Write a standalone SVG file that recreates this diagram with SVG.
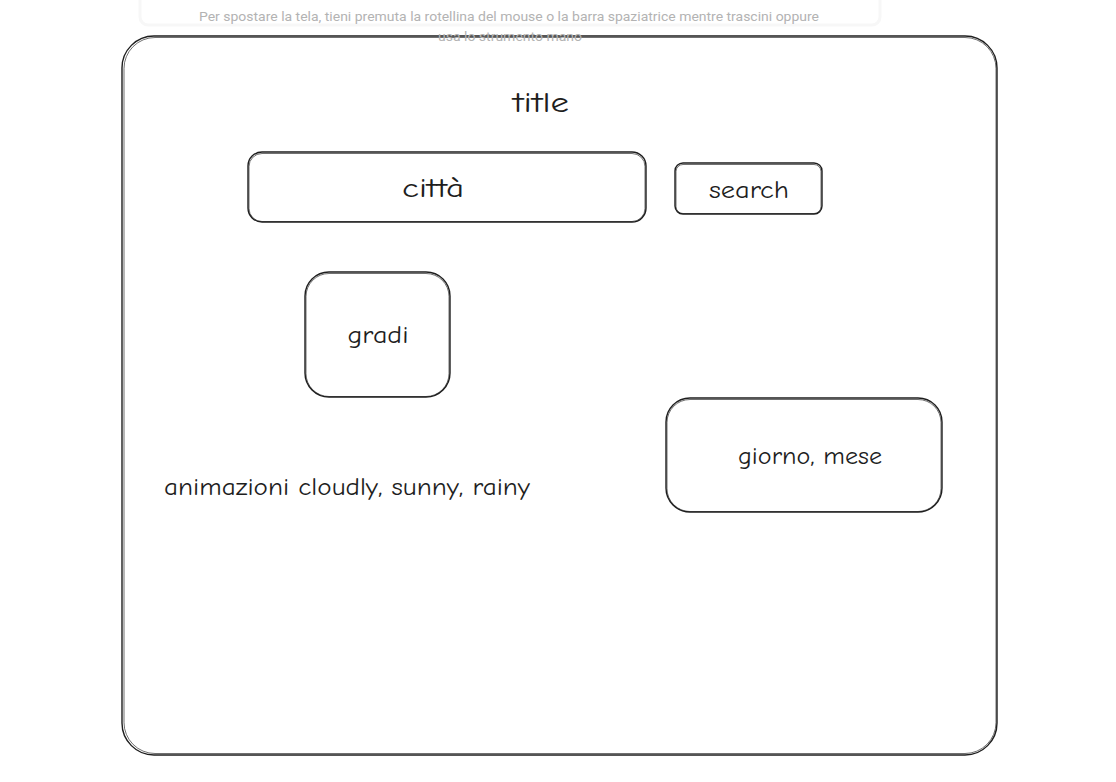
<svg xmlns="http://www.w3.org/2000/svg" width="1116" height="782" viewBox="0 0 1116 782">
<style>
.sk{fill:none;stroke:#1e1e1e;stroke-width:1.4;stroke-linecap:round}
.sk2{fill:none;stroke:#1e1e1e;stroke-width:0.8;opacity:0.8}
.hand{font-family:"Comic Neue","Noto Sans","Liberation Sans",sans-serif;fill:#1e1e1e;text-anchor:middle}
.hint{font-family:Roboto,"Liberation Sans",sans-serif;font-size:13px;fill:#b3b3b3;text-anchor:middle}
</style>
<rect width="1116" height="782" fill="#ffffff"/>
<g id="hint-bar">
<rect x="140" y="-10" width="740" height="35" rx="8" fill="#ffffff" stroke="#f7f7f7" stroke-width="3"/>
</g>
<g id="frame">
<rect class="sk" x="122" y="36" width="875" height="719" rx="32"/>
<rect class="sk2" x="124" y="37.5" width="872" height="716" rx="31"/>
</g>
<g id="hint-text">
<text class="hint" x="509" y="21" textLength="620" lengthAdjust="spacingAndGlyphs">Per spostare la tela, tieni premuta la rotellina del mouse o la barra spaziatrice mentre trascini oppure</text>
<text class="hint" x="510" y="41" textLength="144" lengthAdjust="spacingAndGlyphs">usa lo strumento mano</text>
</g>
<g id="title">
<text class="hand" x="541" y="112" font-size="28" textLength="56" lengthAdjust="spacingAndGlyphs">title</text>
</g>
<g id="citta">
<rect class="sk" x="248" y="152" width="398" height="70" rx="14"/>
<rect class="sk2" x="249" y="153.5" width="396" height="68" rx="13"/>
<text class="hand" x="433" y="197" font-size="26" textLength="62" lengthAdjust="spacingAndGlyphs">città</text>
</g>
<g id="search">
<rect class="sk" x="675" y="163" width="147" height="51" rx="8"/>
<rect class="sk2" x="676" y="164.5" width="145" height="49" rx="7"/>
<text class="hand" x="749" y="198" font-size="25" textLength="80" lengthAdjust="spacingAndGlyphs">search</text>
</g>
<g id="gradi">
<rect class="sk" x="305" y="272" width="145" height="125" rx="24"/>
<rect class="sk2" x="306" y="273.5" width="143" height="123" rx="23"/>
<text class="hand" x="378" y="343" font-size="25" textLength="61" lengthAdjust="spacingAndGlyphs">gradi</text>
</g>
<g id="giorno">
<rect class="sk" x="666" y="398" width="276" height="114" rx="24"/>
<rect class="sk2" x="667" y="399.5" width="274" height="112" rx="23"/>
<text class="hand" x="810" y="464" font-size="25" textLength="144" lengthAdjust="spacingAndGlyphs">giorno, mese</text>
</g>
<g id="animazioni">
<text class="hand" x="347" y="495" font-size="25" textLength="366" lengthAdjust="spacingAndGlyphs">animazioni cloudly, sunny, rainy</text>
</g>
<g id="connectors"></g>
</svg>
